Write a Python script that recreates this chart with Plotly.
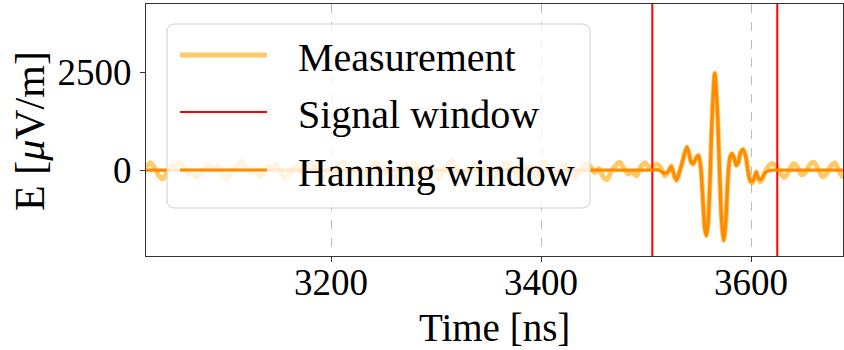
import numpy as np
import plotly.graph_objects as go

# ---------------- data ----------------
signal_window = [3506, 3625]  # ns

# measurement noise before the signal window (3024 ... 3503 ns)
noise_pre = [80, 190, 60, -140, -220, -60, 130, 90, 210, 40,
             -110, -40, -190, -120, 70, 160, -20, 110, -80, -230,
             -90, 50, 140, 230, 30, -70, 20, -160, -110, 90,
             60, 170, -30, -200, -150, 40, 120, -60, 80, 200,
             100, -130, -240, -50, 30, -90, 150, 210, 0, -120,
             60, -40, -190, -80, 110, 190, 70, -100, 40, -150,
             -210, 20, 130, 50, 180, -60, -170, -30, 90, -110,
             -200, 60, 160, 240, 20, -90, -20, -180, 80, 130,
             -40, 100, -140, -220, -50, 90, 200, 60, -80, -160,
             30, 110, -50, -190, 140, 220, 50, -70, -130, 10,
             170, -30, -210, -100, 60, 150, 90, -60, 40, -170,
             -240, -20, 120, 200, 40, -100, -30, -150, 90, 180, 70]
# measurement noise after the signal window (3628 ... 3688 ns)
noise_post = [-80, -190, -30, 160, 90, -120, -60, 140, 200, 20, -170, -90, 110, 180, -40, -200]

# samples inside the signal window
t_win = [3506, 3510, 3514, 3518, 3521, 3524, 3527, 3529, 3531, 3534, 3537, 3539, 3541,
         3543, 3545, 3548, 3550, 3552, 3554, 3556, 3557.5, 3559, 3561, 3563, 3565.5,
         3568, 3570, 3572, 3574, 3576, 3578, 3580, 3582, 3584, 3586, 3588, 3590, 3592.5,
         3595, 3597, 3599, 3601, 3603, 3605, 3607, 3609, 3611, 3613, 3615, 3617, 3620, 3625]
e_meas_win = [90, 160, 60, -150, -60, 110, -170, -270, -130, 150, 450, 590, 420, 200, 160,
              330, 380, 100, -700, -1500, -1680, -1400, -200, 1400, 2480, 1500, 0, -1300,
              -1800, -1300, -200, 330, 420, 300, 120, 200, 450, 530, 350, 0, -270, -330,
              -230, -40, -240, -300, -220, -60, 30, 110, 170, 60]
e_hann_win = [0, 10, -20, -90, -40, 90, -150, -250, -120, 150, 450, 590, 420, 200, 160,
              330, 380, 100, -700, -1500, -1680, -1400, -200, 1400, 2480, 1500, 0, -1300,
              -1800, -1300, -200, 330, 420, 300, 120, 200, 450, 530, 350, 0, -250, -300,
              -200, -50, -200, -250, -180, -80, -40, -20, 0, 0]

x_range = [3023.8, 3687.6]
y_range = [-2200, 4256]
x_ticks = [3200, 3400, 3600]
y_ticks = [0, 2500]

# ---------------- assemble series ----------------
t_pre = np.linspace(3024, 3503, len(noise_pre))
t_post = np.linspace(3628, 3688, len(noise_post))
t_meas = list(t_pre) + t_win + list(t_post)
e_meas = noise_pre + e_meas_win + noise_post
t_hann = [x_range[0]] + t_win + [x_range[1]]
e_hann = [0] + e_hann_win + [0]

FONT = "Liberation Serif"
MEAS_COLOR = "rgba(255,165,0,0.6)"
HANN_COLOR = "#ff8c00"

fig = go.Figure()
fig.add_trace(go.Scatter(x=t_meas, y=e_meas, mode="lines", name="Measurement",
                         line=dict(color=MEAS_COLOR, width=5, shape="spline", smoothing=0.7)))
fig.add_trace(go.Scatter(x=[signal_window[0], signal_window[0], None, signal_window[1], signal_window[1]],
                         y=[y_range[0], y_range[1], None, y_range[0], y_range[1]],
                         mode="lines", name="Signal window", line=dict(color="red", width=2)))
fig.add_trace(go.Scatter(x=t_hann, y=e_hann, mode="lines", name="Hanning window",
                         line=dict(color=HANN_COLOR, width=3.3, shape="spline", smoothing=0.8)))

# ---------------- layout ----------------
L, R, T, B = 146, 1, 4, 94
W, H = 844, 350
pw, ph = W - L - R, H - T - B

def X(px):
    return (px - L) / pw

def Y(py):
    return (H - B - py) / ph

# legend box (rounded, semi-transparent)
bx0, bx1, by0, by1, r = 167, 590, 24, 208, 8
path = (f"M{X(bx0+r)},{Y(by0)} L{X(bx1-r)},{Y(by0)} Q{X(bx1)},{Y(by0)} {X(bx1)},{Y(by0+r)} "
        f"L{X(bx1)},{Y(by1-r)} Q{X(bx1)},{Y(by1)} {X(bx1-r)},{Y(by1)} "
        f"L{X(bx0+r)},{Y(by1)} Q{X(bx0)},{Y(by1)} {X(bx0)},{Y(by1-r)} "
        f"L{X(bx0)},{Y(by0+r)} Q{X(bx0)},{Y(by0)} {X(bx0+r)},{Y(by0)} Z")
shapes = [dict(type="path", xref="paper", yref="paper", path=path,
               fillcolor="rgba(255,255,255,0.8)", line=dict(color="#d0d0d0", width=1),
               layer="above")]
annotations = []
legend_items = [("Measurement", MEAS_COLOR, 5, 55),
                ("Signal window", "red", 2, 112),
                ("Hanning window", HANN_COLOR, 3, 170)]
for text, color, width, py in legend_items:
    shapes.append(dict(type="line", xref="paper", yref="paper", x0=X(180), x1=X(267),
                       y0=Y(py), y1=Y(py), line=dict(color=color, width=width), layer="above"))
    annotations.append(dict(xref="paper", yref="paper", x=X(296), y=Y(py + 2), text=text,
                            showarrow=False, xanchor="left", yanchor="middle",
                            font=dict(family=FONT, size=40, color="black")))

# axis titles
annotations.append(dict(xref="paper", yref="paper", x=X(494), y=Y(327), text="Time [ns]",
                        showarrow=False, xanchor="center", yanchor="middle",
                        font=dict(family=FONT, size=39, color="black")))
annotations.append(dict(xref="paper", yref="paper", x=X(30), y=Y(131), text="E [<i>μ</i>V/m]",
                        showarrow=False, xanchor="center", yanchor="middle", textangle=-90,
                        font=dict(family=FONT, size=42, color="black")))

axis_common = dict(showline=True, mirror=True, linecolor="#333333", linewidth=1.2,
                   ticks="outside", ticklen=5, tickwidth=1.2, tickcolor="#333333",
                   tickfont=dict(family=FONT, size=37, color="black"), zeroline=False)

fig.update_layout(
    width=W, height=H, margin=dict(l=L, r=R, t=T, b=B, autoexpand=False),
    paper_bgcolor="white", plot_bgcolor="white", showlegend=False,
    shapes=shapes, annotations=annotations,
    xaxis=dict(range=x_range, tickvals=x_ticks, showgrid=True, gridcolor="#bbbbbb",
               griddash="dash", gridwidth=1, ticklabelstandoff=-12, **axis_common),
    yaxis=dict(range=y_range, tickvals=y_ticks, showgrid=False, ticklabelstandoff=1,
               **axis_common),
)

fig.write_html("out.html")
